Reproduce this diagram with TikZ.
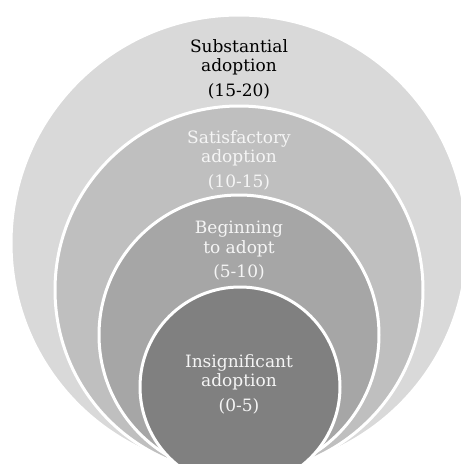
\documentclass[tikz,border=0pt]{standalone}
\usepackage{fontspec}
\setmainfont{DejaVu Serif}
\usepackage{tikz}

\begin{document}
\begin{tikzpicture}[x=1pt,y=-1pt]
    % `ring' is used for the nested discs, `label' for the texts.
    \tikzstyle{ring} = [circle,draw=white,line width=3pt,inner sep=0pt]
    \tikzstyle{label} = [align=center,inner sep=0pt,font=\fontsize{17}{19.5}\selectfont]
    \definecolor{ringA}{RGB}{217,217,217}
    \definecolor{ringB}{RGB}{191,191,191}
    \definecolor{ringC}{RGB}{166,166,166}
    \definecolor{ringD}{RGB}{128,128,128}
    \definecolor{paletext}{RGB}{245,245,245}
    %
    \useasboundingbox (0,0) rectangle (461,464);
    \clip (0,0) rectangle (461,464);
    % Draw discs.
    \node[ring,fill=ringA,minimum size=456pt] (outer) at (239,243) {};
    \node[ring,fill=ringB,minimum size=368pt] (second) at (239,290) {};
    \node[ring,fill=ringC,minimum size=280pt] (third) at (239,335) {};
    \node[ring,fill=ringD,minimum size=200pt] (inner) at (240,387) {};
    % Draw texts.
    \node[label] (substantial) at (239,69) {Substantial\\adoption\\[5pt](15-20)};
    \node[label,text=paletext] (satisfactory) at (239,160) {Satisfactory\\adoption\\[5pt](10-15)};
    \node[label,text=paletext] (beginning) at (239,251) {Beginning\\to adopt\\[5pt](5-10)};
    \node[label,text=paletext] (insignificant) at (239,384) {Insignificant\\adoption\\[5pt](0-5)};
\end{tikzpicture}
\end{document}
